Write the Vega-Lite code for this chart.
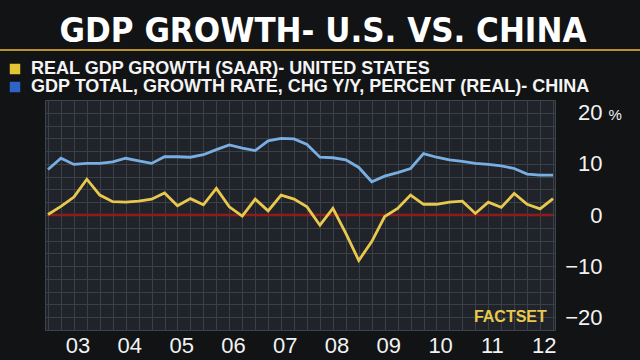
{
  "$schema": "https://vega.github.io/schema/vega-lite/v6.json",
  "width": 510,
  "height": 230,
  "autosize": {"type": "none"},
  "padding": {"left": 45, "top": 100, "right": 85, "bottom": 30},
  "background": "#111315",
  "config": {
    "view": {"fill": "#20242a", "stroke": "#3c444c", "strokeWidth": 1},
    "font": "Liberation Sans"
  },
  "title": {
    "text": "GDP GROWTH- U.S. VS. CHINA",
    "font": "DejaVu Sans Condensed, Roboto",
    "fontSize": 34.5,
    "fontWeight": "bold",
    "color": "#ffffff",
    "anchor": "middle",
    "frame": "group",
    "dx": 23,
    "dy": 38,
    "offset": 10,
    "baseline": "alphabetic"
  },
  "datasets": {
    "gdp": [
      {"quarter": "2002Q4", "year": 2003.0, "series": "REAL GDP GROWTH (SAAR)- UNITED STATES", "value": 0.1},
      {"quarter": "2003Q1", "year": 2003.25, "series": "REAL GDP GROWTH (SAAR)- UNITED STATES", "value": 1.7},
      {"quarter": "2003Q2", "year": 2003.5, "series": "REAL GDP GROWTH (SAAR)- UNITED STATES", "value": 3.5},
      {"quarter": "2003Q3", "year": 2003.75, "series": "REAL GDP GROWTH (SAAR)- UNITED STATES", "value": 7.0},
      {"quarter": "2003Q4", "year": 2004.0, "series": "REAL GDP GROWTH (SAAR)- UNITED STATES", "value": 3.9},
      {"quarter": "2004Q1", "year": 2004.25, "series": "REAL GDP GROWTH (SAAR)- UNITED STATES", "value": 2.6},
      {"quarter": "2004Q2", "year": 2004.5, "series": "REAL GDP GROWTH (SAAR)- UNITED STATES", "value": 2.5},
      {"quarter": "2004Q3", "year": 2004.75, "series": "REAL GDP GROWTH (SAAR)- UNITED STATES", "value": 2.7},
      {"quarter": "2004Q4", "year": 2005.0, "series": "REAL GDP GROWTH (SAAR)- UNITED STATES", "value": 3.1},
      {"quarter": "2005Q1", "year": 2005.25, "series": "REAL GDP GROWTH (SAAR)- UNITED STATES", "value": 4.3},
      {"quarter": "2005Q2", "year": 2005.5, "series": "REAL GDP GROWTH (SAAR)- UNITED STATES", "value": 1.8},
      {"quarter": "2005Q3", "year": 2005.75, "series": "REAL GDP GROWTH (SAAR)- UNITED STATES", "value": 3.2},
      {"quarter": "2005Q4", "year": 2006.0, "series": "REAL GDP GROWTH (SAAR)- UNITED STATES", "value": 2.0},
      {"quarter": "2006Q1", "year": 2006.25, "series": "REAL GDP GROWTH (SAAR)- UNITED STATES", "value": 5.2},
      {"quarter": "2006Q2", "year": 2006.5, "series": "REAL GDP GROWTH (SAAR)- UNITED STATES", "value": 1.6},
      {"quarter": "2006Q3", "year": 2006.75, "series": "REAL GDP GROWTH (SAAR)- UNITED STATES", "value": -0.2},
      {"quarter": "2006Q4", "year": 2007.0, "series": "REAL GDP GROWTH (SAAR)- UNITED STATES", "value": 3.1},
      {"quarter": "2007Q1", "year": 2007.25, "series": "REAL GDP GROWTH (SAAR)- UNITED STATES", "value": 0.8},
      {"quarter": "2007Q2", "year": 2007.5, "series": "REAL GDP GROWTH (SAAR)- UNITED STATES", "value": 3.9},
      {"quarter": "2007Q3", "year": 2007.75, "series": "REAL GDP GROWTH (SAAR)- UNITED STATES", "value": 3.1},
      {"quarter": "2007Q4", "year": 2008.0, "series": "REAL GDP GROWTH (SAAR)- UNITED STATES", "value": 1.6},
      {"quarter": "2008Q1", "year": 2008.25, "series": "REAL GDP GROWTH (SAAR)- UNITED STATES", "value": -2.0},
      {"quarter": "2008Q2", "year": 2008.5, "series": "REAL GDP GROWTH (SAAR)- UNITED STATES", "value": 1.3},
      {"quarter": "2008Q3", "year": 2008.75, "series": "REAL GDP GROWTH (SAAR)- UNITED STATES", "value": -3.6},
      {"quarter": "2008Q4", "year": 2009.0, "series": "REAL GDP GROWTH (SAAR)- UNITED STATES", "value": -8.9},
      {"quarter": "2009Q1", "year": 2009.25, "series": "REAL GDP GROWTH (SAAR)- UNITED STATES", "value": -5.2},
      {"quarter": "2009Q2", "year": 2009.5, "series": "REAL GDP GROWTH (SAAR)- UNITED STATES", "value": -0.3},
      {"quarter": "2009Q3", "year": 2009.75, "series": "REAL GDP GROWTH (SAAR)- UNITED STATES", "value": 1.3},
      {"quarter": "2009Q4", "year": 2010.0, "series": "REAL GDP GROWTH (SAAR)- UNITED STATES", "value": 3.9},
      {"quarter": "2010Q1", "year": 2010.25, "series": "REAL GDP GROWTH (SAAR)- UNITED STATES", "value": 2.1},
      {"quarter": "2010Q2", "year": 2010.5, "series": "REAL GDP GROWTH (SAAR)- UNITED STATES", "value": 2.1},
      {"quarter": "2010Q3", "year": 2010.75, "series": "REAL GDP GROWTH (SAAR)- UNITED STATES", "value": 2.5},
      {"quarter": "2010Q4", "year": 2011.0, "series": "REAL GDP GROWTH (SAAR)- UNITED STATES", "value": 2.7},
      {"quarter": "2011Q1", "year": 2011.25, "series": "REAL GDP GROWTH (SAAR)- UNITED STATES", "value": 0.3},
      {"quarter": "2011Q2", "year": 2011.5, "series": "REAL GDP GROWTH (SAAR)- UNITED STATES", "value": 2.5},
      {"quarter": "2011Q3", "year": 2011.75, "series": "REAL GDP GROWTH (SAAR)- UNITED STATES", "value": 1.5},
      {"quarter": "2011Q4", "year": 2012.0, "series": "REAL GDP GROWTH (SAAR)- UNITED STATES", "value": 4.2},
      {"quarter": "2012Q1", "year": 2012.25, "series": "REAL GDP GROWTH (SAAR)- UNITED STATES", "value": 2.1},
      {"quarter": "2012Q2", "year": 2012.5, "series": "REAL GDP GROWTH (SAAR)- UNITED STATES", "value": 1.2},
      {"quarter": "2012Q3", "year": 2012.75, "series": "REAL GDP GROWTH (SAAR)- UNITED STATES", "value": 3.2},
      {"quarter": "2002Q4", "year": 2003.0, "series": "GDP TOTAL, GROWTH RATE, CHG Y/Y, PERCENT (REAL)- CHINA", "value": 8.9},
      {"quarter": "2003Q1", "year": 2003.25, "series": "GDP TOTAL, GROWTH RATE, CHG Y/Y, PERCENT (REAL)- CHINA", "value": 11.1},
      {"quarter": "2003Q2", "year": 2003.5, "series": "GDP TOTAL, GROWTH RATE, CHG Y/Y, PERCENT (REAL)- CHINA", "value": 9.9},
      {"quarter": "2003Q3", "year": 2003.75, "series": "GDP TOTAL, GROWTH RATE, CHG Y/Y, PERCENT (REAL)- CHINA", "value": 10.1},
      {"quarter": "2003Q4", "year": 2004.0, "series": "GDP TOTAL, GROWTH RATE, CHG Y/Y, PERCENT (REAL)- CHINA", "value": 10.1},
      {"quarter": "2004Q1", "year": 2004.25, "series": "GDP TOTAL, GROWTH RATE, CHG Y/Y, PERCENT (REAL)- CHINA", "value": 10.4},
      {"quarter": "2004Q2", "year": 2004.5, "series": "GDP TOTAL, GROWTH RATE, CHG Y/Y, PERCENT (REAL)- CHINA", "value": 11.1},
      {"quarter": "2004Q3", "year": 2004.75, "series": "GDP TOTAL, GROWTH RATE, CHG Y/Y, PERCENT (REAL)- CHINA", "value": 10.6},
      {"quarter": "2004Q4", "year": 2005.0, "series": "GDP TOTAL, GROWTH RATE, CHG Y/Y, PERCENT (REAL)- CHINA", "value": 10.1},
      {"quarter": "2005Q1", "year": 2005.25, "series": "GDP TOTAL, GROWTH RATE, CHG Y/Y, PERCENT (REAL)- CHINA", "value": 11.4},
      {"quarter": "2005Q2", "year": 2005.5, "series": "GDP TOTAL, GROWTH RATE, CHG Y/Y, PERCENT (REAL)- CHINA", "value": 11.4},
      {"quarter": "2005Q3", "year": 2005.75, "series": "GDP TOTAL, GROWTH RATE, CHG Y/Y, PERCENT (REAL)- CHINA", "value": 11.3},
      {"quarter": "2005Q4", "year": 2006.0, "series": "GDP TOTAL, GROWTH RATE, CHG Y/Y, PERCENT (REAL)- CHINA", "value": 11.8},
      {"quarter": "2006Q1", "year": 2006.25, "series": "GDP TOTAL, GROWTH RATE, CHG Y/Y, PERCENT (REAL)- CHINA", "value": 12.8},
      {"quarter": "2006Q2", "year": 2006.5, "series": "GDP TOTAL, GROWTH RATE, CHG Y/Y, PERCENT (REAL)- CHINA", "value": 13.7},
      {"quarter": "2006Q3", "year": 2006.75, "series": "GDP TOTAL, GROWTH RATE, CHG Y/Y, PERCENT (REAL)- CHINA", "value": 13.1},
      {"quarter": "2006Q4", "year": 2007.0, "series": "GDP TOTAL, GROWTH RATE, CHG Y/Y, PERCENT (REAL)- CHINA", "value": 12.6},
      {"quarter": "2007Q1", "year": 2007.25, "series": "GDP TOTAL, GROWTH RATE, CHG Y/Y, PERCENT (REAL)- CHINA", "value": 14.5},
      {"quarter": "2007Q2", "year": 2007.5, "series": "GDP TOTAL, GROWTH RATE, CHG Y/Y, PERCENT (REAL)- CHINA", "value": 15.0},
      {"quarter": "2007Q3", "year": 2007.75, "series": "GDP TOTAL, GROWTH RATE, CHG Y/Y, PERCENT (REAL)- CHINA", "value": 14.9},
      {"quarter": "2007Q4", "year": 2008.0, "series": "GDP TOTAL, GROWTH RATE, CHG Y/Y, PERCENT (REAL)- CHINA", "value": 13.8},
      {"quarter": "2008Q1", "year": 2008.25, "series": "GDP TOTAL, GROWTH RATE, CHG Y/Y, PERCENT (REAL)- CHINA", "value": 11.3},
      {"quarter": "2008Q2", "year": 2008.5, "series": "GDP TOTAL, GROWTH RATE, CHG Y/Y, PERCENT (REAL)- CHINA", "value": 11.2},
      {"quarter": "2008Q3", "year": 2008.75, "series": "GDP TOTAL, GROWTH RATE, CHG Y/Y, PERCENT (REAL)- CHINA", "value": 10.8},
      {"quarter": "2008Q4", "year": 2009.0, "series": "GDP TOTAL, GROWTH RATE, CHG Y/Y, PERCENT (REAL)- CHINA", "value": 9.3},
      {"quarter": "2009Q1", "year": 2009.25, "series": "GDP TOTAL, GROWTH RATE, CHG Y/Y, PERCENT (REAL)- CHINA", "value": 6.5},
      {"quarter": "2009Q2", "year": 2009.5, "series": "GDP TOTAL, GROWTH RATE, CHG Y/Y, PERCENT (REAL)- CHINA", "value": 7.6},
      {"quarter": "2009Q3", "year": 2009.75, "series": "GDP TOTAL, GROWTH RATE, CHG Y/Y, PERCENT (REAL)- CHINA", "value": 8.3},
      {"quarter": "2009Q4", "year": 2010.0, "series": "GDP TOTAL, GROWTH RATE, CHG Y/Y, PERCENT (REAL)- CHINA", "value": 9.1},
      {"quarter": "2010Q1", "year": 2010.25, "series": "GDP TOTAL, GROWTH RATE, CHG Y/Y, PERCENT (REAL)- CHINA", "value": 12.0},
      {"quarter": "2010Q2", "year": 2010.5, "series": "GDP TOTAL, GROWTH RATE, CHG Y/Y, PERCENT (REAL)- CHINA", "value": 11.3},
      {"quarter": "2010Q3", "year": 2010.75, "series": "GDP TOTAL, GROWTH RATE, CHG Y/Y, PERCENT (REAL)- CHINA", "value": 10.8},
      {"quarter": "2010Q4", "year": 2011.0, "series": "GDP TOTAL, GROWTH RATE, CHG Y/Y, PERCENT (REAL)- CHINA", "value": 10.5},
      {"quarter": "2011Q1", "year": 2011.25, "series": "GDP TOTAL, GROWTH RATE, CHG Y/Y, PERCENT (REAL)- CHINA", "value": 10.1},
      {"quarter": "2011Q2", "year": 2011.5, "series": "GDP TOTAL, GROWTH RATE, CHG Y/Y, PERCENT (REAL)- CHINA", "value": 9.9},
      {"quarter": "2011Q3", "year": 2011.75, "series": "GDP TOTAL, GROWTH RATE, CHG Y/Y, PERCENT (REAL)- CHINA", "value": 9.6},
      {"quarter": "2011Q4", "year": 2012.0, "series": "GDP TOTAL, GROWTH RATE, CHG Y/Y, PERCENT (REAL)- CHINA", "value": 9.1},
      {"quarter": "2012Q1", "year": 2012.25, "series": "GDP TOTAL, GROWTH RATE, CHG Y/Y, PERCENT (REAL)- CHINA", "value": 8.0},
      {"quarter": "2012Q2", "year": 2012.5, "series": "GDP TOTAL, GROWTH RATE, CHG Y/Y, PERCENT (REAL)- CHINA", "value": 7.8},
      {"quarter": "2012Q3", "year": 2012.75, "series": "GDP TOTAL, GROWTH RATE, CHG Y/Y, PERCENT (REAL)- CHINA", "value": 7.8}
    ]
  },
  "layer": [
    {
      "data": {"values": [{"level": 0}]},
      "mark": {"type": "rule", "color": "#8e1c1c", "strokeWidth": 2.5},
      "encoding": {
        "x": {
          "datum": 2003.0, "type": "quantitative",
          "scale": {"domain": [2002.942, 2012.788], "nice": false, "zero": false},
          "axis": {"orient": "top", "values": [2003, 2003.25, 2003.5, 2003.75, 2004, 2004.25, 2004.5, 2004.75, 2005, 2005.25, 2005.5, 2005.75, 2006, 2006.25, 2006.5, 2006.75, 2007, 2007.25, 2007.5, 2007.75, 2008, 2008.25, 2008.5, 2008.75, 2009, 2009.25, 2009.5, 2009.75, 2010, 2010.25, 2010.5, 2010.75, 2011, 2011.25, 2011.5, 2011.75, 2012, 2012.25, 2012.5, 2012.75], "grid": true, "gridColor": "#394046", "gridWidth": 1, "labels": false, "ticks": false, "domain": false, "title": null}
        },
        "x2": {"datum": 2012.75},
        "y": {
          "field": "level", "type": "quantitative",
          "scale": {"domain": [-22.5, 22.5], "nice": false, "zero": false},
          "axis": {"orient": "left", "values": [-20, -17.5, -15, -12.5, -10, -7.5, -5, -2.5, 0, 2.5, 5, 7.5, 10, 12.5, 15, 17.5, 20], "grid": true, "gridColor": "#394046", "gridWidth": 1, "labels": false, "ticks": false, "domain": false, "title": null}
        }
      }
    },
    {
      "data": {"name": "gdp"},
      "mark": {"type": "line", "strokeWidth": 2.8, "strokeJoin": "miter"},
      "encoding": {
        "x": {
          "field": "year", "type": "quantitative",
          "axis": {"orient": "bottom", "values": [2003.57, 2004.57, 2005.57, 2006.57, 2007.57, 2008.57, 2009.57, 2010.57, 2011.57, 2012.57], "labelExpr": "slice(toString(floor(datum.value)), 2)", "labelFontSize": 22, "labelColor": "#f2f2f2", "labelPadding": 5, "labelFlush": false, "labelOverlap": false, "ticks": false, "domain": false, "grid": false, "title": null}
        },
        "y": {
          "field": "value", "type": "quantitative",
          "axis": {"orient": "right", "values": [-20, -10, 0, 10, 20], "labelFontSize": 22, "labelColor": "#f2f2f2", "labelAlign": "right", "labelPadding": 47, "tickSize": 0, "ticks": false, "domain": false, "grid": false, "title": "%", "titleAngle": 0, "titleX": 53, "titleY": 14, "titleFontSize": 15, "titleFontWeight": "normal", "titleColor": "#f2f2f2", "titleAlign": "left", "titleBaseline": "middle"}
        },
        "color": {
          "field": "series", "type": "nominal",
          "scale": {"domain": ["REAL GDP GROWTH (SAAR)- UNITED STATES", "GDP TOTAL, GROWTH RATE, CHG Y/Y, PERCENT (REAL)- CHINA"], "range": ["#e9c84e", "#79aee2"]},
          "legend": {
            "title": null, "orient": "none", "legendX": -39, "legendY": -40,
            "symbolType": "square", "symbolSize": 110, "labelFontSize": 18, "labelFontWeight": "bold", "labelColor": "#f4f4f4",
            "labelLimit": 0, "rowPadding": -1, "labelOffset": 7, "symbolStrokeWidth": 0,
            "encode": {"symbols": {"update": {"fill": {"signal": "indexof(datum.value, 'CHINA') >= 0 ? '#2f63c6' : '#e3c534'"}, "fillOpacity": {"value": 1}, "strokeWidth": {"value": 0}}}}
          }
        }
      }
    },
    {
      "data": {"values": [{"source": "FACTSET", "year": 2012.63, "value": -20}]},
      "mark": {"type": "text", "font": "Liberation Sans", "fontWeight": "bold", "fontSize": 16, "color": "#e9c84e", "align": "right", "baseline": "middle"},
      "encoding": {
        "x": {"field": "year", "type": "quantitative", "axis": null},
        "y": {"field": "value", "type": "quantitative", "axis": null},
        "text": {"field": "source"}
      }
    },
    {
      "data": {"values": [{"from": 2002.0, "to": 2014.5, "level": 32.3}]},
      "mark": {"type": "rule", "color": "#b8912c", "strokeWidth": 2, "clip": false},
      "encoding": {
        "x": {"field": "from", "type": "quantitative", "axis": null},
        "x2": {"field": "to"},
        "y": {"field": "level", "type": "quantitative", "axis": null}
      }
    }
  ],
  "resolve": {"axis": {"x": "independent", "y": "independent"}}
}
